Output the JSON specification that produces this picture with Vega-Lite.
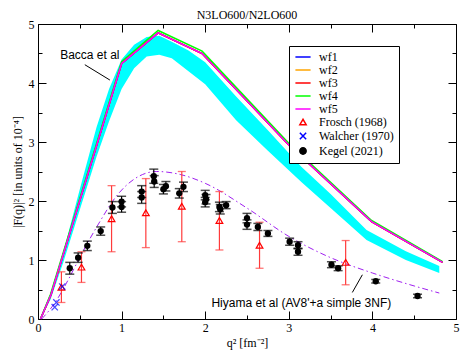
{
  "$schema": "https://vega.github.io/schema/vega-lite/v6.json",
  "width": 418,
  "height": 295,
  "autosize": "none",
  "padding": {"left": 38, "top": 24, "right": 5, "bottom": 34},
  "background": "white",
  "title": {"text": "N3LO600/N2LO600", "font": "Liberation Serif", "fontSize": 12, "fontWeight": "normal", "color": "black", "offset": 4, "dy": 8},
  "config": {
    "view": {"stroke": "black", "strokeWidth": 1},
    "axis": {"domain": false, "grid": false, "tickColor": "black", "tickWidth": 1, "labelColor": "black", "labelFont": "Liberation Serif", "labelFontSize": 12, "titleFont": "Liberation Serif", "titleFontSize": 12, "titleFontWeight": "normal", "titleColor": "black", "labelFlush": false, "labelOverlap": false, "labelBound": false},
    "legend": {"orient": "none", "legendX": 251, "legendY": 22, "title": null, "labelFont": "Liberation Serif", "labelFontSize": 12, "labelColor": "black", "strokeColor": "black", "fillColor": "white", "padding": 5, "rowPadding": 1, "symbolOffset": 3, "labelOffset": 10, "symbolSize": 40, "symbolStrokeWidth": 1.5},
    "tick": {"thickness": 1.3}
  },
  "datasets": {
    "band": [
      {"q": 0.03, "lo": 0, "hi": 0},
      {"q": 0.15, "lo": 0.33, "hi": 0.40},
      {"q": 0.3, "lo": 0.95, "hi": 1.12},
      {"q": 0.5, "lo": 1.85, "hi": 2.2},
      {"q": 0.7, "lo": 2.75, "hi": 3.25},
      {"q": 0.85, "lo": 3.35, "hi": 3.9},
      {"q": 1.0, "lo": 3.9, "hi": 4.4},
      {"q": 1.15, "lo": 4.25, "hi": 4.65},
      {"q": 1.3, "lo": 4.45, "hi": 4.78},
      {"q": 1.45, "lo": 4.48, "hi": 4.8},
      {"q": 1.6, "lo": 4.42, "hi": 4.7},
      {"q": 1.8, "lo": 4.2, "hi": 4.55},
      {"q": 2.0, "lo": 3.98, "hi": 4.35},
      {"q": 2.37, "lo": 3.37, "hi": 3.77},
      {"q": 2.75, "lo": 2.85, "hi": 3.2},
      {"q": 3.15, "lo": 2.32, "hi": 2.58},
      {"q": 3.5, "lo": 1.88, "hi": 2.12},
      {"q": 3.93, "lo": 1.34, "hi": 1.51},
      {"q": 4.4, "lo": 1.0, "hi": 1.15},
      {"q": 4.8, "lo": 0.78, "hi": 0.9}
    ],
    "wf": [
      {"series": "wf1", "q": 0.03, "v": 0}, {"series": "wf1", "q": 0.155, "v": 0.41}, {"series": "wf1", "q": 1.0, "v": 4.33}, {"series": "wf1", "q": 1.437, "v": 4.85}, {"series": "wf1", "q": 1.963, "v": 4.5}, {"series": "wf1", "q": 3.0, "v": 2.95}, {"series": "wf1", "q": 3.99, "v": 1.65}, {"series": "wf1", "q": 4.84, "v": 0.96},
      {"series": "wf2", "q": 0.03, "v": 0}, {"series": "wf2", "q": 0.155, "v": 0.41}, {"series": "wf2", "q": 1.0, "v": 4.33}, {"series": "wf2", "q": 1.437, "v": 4.85}, {"series": "wf2", "q": 1.963, "v": 4.5}, {"series": "wf2", "q": 3.0, "v": 2.95}, {"series": "wf2", "q": 3.99, "v": 1.65}, {"series": "wf2", "q": 4.84, "v": 0.96},
      {"series": "wf3", "q": 0.03, "v": 0}, {"series": "wf3", "q": 0.155, "v": 0.41}, {"series": "wf3", "q": 1.0, "v": 4.33}, {"series": "wf3", "q": 1.437, "v": 4.85}, {"series": "wf3", "q": 1.963, "v": 4.5}, {"series": "wf3", "q": 3.0, "v": 2.95}, {"series": "wf3", "q": 3.99, "v": 1.65}, {"series": "wf3", "q": 4.84, "v": 0.96},
      {"series": "wf4", "q": 0.03, "v": 0}, {"series": "wf4", "q": 0.15, "v": 0.42}, {"series": "wf4", "q": 1.0, "v": 4.36}, {"series": "wf4", "q": 1.437, "v": 4.89}, {"series": "wf4", "q": 1.963, "v": 4.54}, {"series": "wf4", "q": 3.0, "v": 2.98}, {"series": "wf4", "q": 3.99, "v": 1.67}, {"series": "wf4", "q": 4.84, "v": 0.97},
      {"series": "wf5", "q": 0.03, "v": 0}, {"series": "wf5", "q": 0.155, "v": 0.41}, {"series": "wf5", "q": 1.0, "v": 4.33}, {"series": "wf5", "q": 1.437, "v": 4.85}, {"series": "wf5", "q": 1.963, "v": 4.5}, {"series": "wf5", "q": 3.0, "v": 2.95}, {"series": "wf5", "q": 3.99, "v": 1.65}, {"series": "wf5", "q": 4.84, "v": 0.96}
    ],
    "hiyama": [
      {"q": 0.044, "v": 0.0}, {"q": 0.2, "v": 0.27}, {"q": 0.36, "v": 0.66}, {"q": 0.52, "v": 1.1}, {"q": 0.74, "v": 1.65}, {"q": 0.92, "v": 2.05}, {"q": 1.16, "v": 2.38}, {"q": 1.42, "v": 2.5}, {"q": 1.7, "v": 2.45}, {"q": 2.0, "v": 2.3}, {"q": 2.5, "v": 1.88}, {"q": 3.0, "v": 1.4}, {"q": 3.5, "v": 1.04}, {"q": 4.0, "v": 0.78}, {"q": 4.5, "v": 0.56}, {"q": 4.8, "v": 0.44}
    ],
    "frosch": [
      {"q": 0.28, "v": 0.54, "lo": 0.28, "hi": 0.8},
      {"q": 0.52, "v": 0.88, "lo": 0.62, "hi": 1.14},
      {"q": 0.88, "v": 1.7, "lo": 1.14, "hi": 2.26},
      {"q": 1.29, "v": 1.8, "lo": 1.21, "hi": 2.38},
      {"q": 1.72, "v": 1.91, "lo": 1.31, "hi": 2.5},
      {"q": 2.17, "v": 1.67, "lo": 1.17, "hi": 2.16},
      {"q": 2.65, "v": 1.25, "lo": 0.86, "hi": 1.64},
      {"q": 3.68, "v": 0.96, "lo": 0.58, "hi": 1.33}
    ],
    "walcher": [
      {"q": 0.29, "v": 0.55}, {"q": 0.22, "v": 0.28}, {"q": 0.2, "v": 0.2}
    ],
    "kegel": [
      {"series": "Kegel (2021)", "q": 0.38, "v": 0.86, "lo": 0.76, "hi": 0.96},
      {"series": "Kegel (2021)", "q": 0.48, "v": 1.04, "lo": 0.96, "hi": 1.12},
      {"series": "Kegel (2021)", "q": 0.59, "v": 1.24, "lo": 1.16, "hi": 1.32},
      {"series": "Kegel (2021)", "q": 0.75, "v": 1.49, "lo": 1.42, "hi": 1.56},
      {"series": "Kegel (2021)", "q": 0.89, "v": 1.89, "lo": 1.79, "hi": 1.99},
      {"series": "Kegel (2021)", "q": 1.0, "v": 1.99, "lo": 1.9, "hi": 2.08},
      {"series": "Kegel (2021)", "q": 1.0, "v": 1.9, "lo": 1.81, "hi": 1.99},
      {"series": "Kegel (2021)", "q": 1.24, "v": 2.16, "lo": 2.06, "hi": 2.26},
      {"series": "Kegel (2021)", "q": 1.24, "v": 2.06, "lo": 1.96, "hi": 2.16},
      {"series": "Kegel (2021)", "q": 1.385, "v": 2.42, "lo": 2.3, "hi": 2.54},
      {"series": "Kegel (2021)", "q": 1.39, "v": 2.33, "lo": 2.23, "hi": 2.43},
      {"series": "Kegel (2021)", "q": 1.5, "v": 2.2, "lo": 2.12, "hi": 2.28},
      {"series": "Kegel (2021)", "q": 1.53, "v": 2.25, "lo": 2.17, "hi": 2.33},
      {"series": "Kegel (2021)", "q": 1.69, "v": 2.13, "lo": 2.05, "hi": 2.21},
      {"series": "Kegel (2021)", "q": 1.74, "v": 2.24, "lo": 2.16, "hi": 2.32},
      {"series": "Kegel (2021)", "q": 2.0, "v": 2.1, "lo": 2.02, "hi": 2.18},
      {"series": "Kegel (2021)", "q": 2.01, "v": 2.03, "lo": 1.95, "hi": 2.11},
      {"series": "Kegel (2021)", "q": 2.0, "v": 1.98, "lo": 1.9, "hi": 2.06},
      {"series": "Kegel (2021)", "q": 2.17, "v": 1.9, "lo": 1.82, "hi": 1.98},
      {"series": "Kegel (2021)", "q": 2.18, "v": 1.86, "lo": 1.78, "hi": 1.94},
      {"series": "Kegel (2021)", "q": 2.25, "v": 1.93, "lo": 1.87, "hi": 1.99},
      {"series": "Kegel (2021)", "q": 2.5, "v": 1.71, "lo": 1.63, "hi": 1.79},
      {"series": "Kegel (2021)", "q": 2.5, "v": 1.6, "lo": 1.52, "hi": 1.68},
      {"series": "Kegel (2021)", "q": 2.63, "v": 1.56, "lo": 1.5, "hi": 1.62},
      {"series": "Kegel (2021)", "q": 2.75, "v": 1.45, "lo": 1.4, "hi": 1.5},
      {"series": "Kegel (2021)", "q": 3.01, "v": 1.31, "lo": 1.25, "hi": 1.37},
      {"series": "Kegel (2021)", "q": 3.11, "v": 1.25, "lo": 1.19, "hi": 1.31},
      {"series": "Kegel (2021)", "q": 3.11, "v": 1.14, "lo": 1.08, "hi": 1.2},
      {"series": "Kegel (2021)", "q": 3.51, "v": 0.92, "lo": 0.87, "hi": 0.97},
      {"series": "Kegel (2021)", "q": 3.59, "v": 0.86, "lo": 0.82, "hi": 0.9},
      {"series": "Kegel (2021)", "q": 4.04, "v": 0.64, "lo": 0.61, "hi": 0.67},
      {"series": "Kegel (2021)", "q": 4.54, "v": 0.39, "lo": 0.36, "hi": 0.42}
    ],
    "notes": [
      {"q": 0.62, "v": 4.47, "label": "Bacca et al"},
      {"q": 3.15, "v": 0.27, "label": "Hiyama et al (AV8'+a simple 3NF)"}
    ],
    "leaders": [
      {"q": 0.56, "v": 4.31, "q2": 0.86, "v2": 4.05},
      {"q": 3.76, "v": 0.45, "q2": 3.88, "v2": 0.75}
    ]
  },
  "resolve": {"axis": {"x": "independent", "y": "independent"}},
  "layer": [
    {
      "data": {"name": "band"},
      "mark": {"type": "area", "color": "#00ffff", "opacity": 1},
      "encoding": {
        "x": {"field": "q", "type": "quantitative", "scale": {"domain": [0, 5], "nice": false, "zero": false}, "axis": {"orient": "bottom", "values": [0, 1, 2, 3, 4, 5], "tickSize": -8, "labelPadding": 11, "title": "q² [fm⁻²]", "titlePadding": 4}},
        "y": {"field": "hi", "type": "quantitative", "scale": {"domain": [0, 5], "nice": false, "zero": false}, "axis": {"orient": "left", "values": [0, 1, 2, 3, 4, 5], "tickSize": -8, "labelPadding": 12, "title": "|F(q)|² [in units of 10⁻⁴]", "titlePadding": 4}},
        "y2": {"field": "lo"}
      }
    },
    {
      "data": {"name": "wf"},
      "mark": {"type": "line", "strokeWidth": 1.5},
      "encoding": {
        "x": {"field": "q", "type": "quantitative", "scale": {"domain": [0, 5], "nice": false, "zero": false}, "axis": {"orient": "bottom", "values": [0.5, 1.5, 2.5, 3.5, 4.5], "tickSize": -4, "labels": false, "title": null}},
        "y": {"field": "v", "type": "quantitative", "scale": {"domain": [0, 5], "nice": false, "zero": false}, "axis": {"orient": "left", "values": [0.5, 1.5, 2.5, 3.5, 4.5], "tickSize": -4, "labels": false, "title": null}},
        "color": {"field": "series", "type": "nominal",
          "scale": {"domain": ["wf1", "wf2", "wf3", "wf4", "wf5", "Frosch (1968)", "Walcher (1970)", "Kegel (2021)"], "range": ["#0000ff", "#ffa500", "#ff0000", "#00ff00", "#ff00ff", "#ff0000", "#0000ff", "#000000"]},
          "legend": {"strokeColor": "black", "fillColor": "white", "encode": {"legend": {"update": {"stroke": {"value": "black"}, "strokeWidth": {"value": 1}, "fill": {"value": "white"}}}, "symbols": {"update": {"fill": {"value": "black"}, "fillOpacity": {"signal": "datum.value === 'Kegel (2021)' ? 1 : 0"}, "stroke": {"scale": "color", "field": "value"}, "strokeWidth": {"value": 1.5}, "opacity": {"value": 1}}}}}},
        "order": {"field": "q", "type": "quantitative"}
      }
    },
    {
      "data": {"name": "hiyama"},
      "mark": {"type": "line", "color": "#a020f0", "strokeWidth": 1, "strokeDash": [6, 3, 1.5, 3], "interpolate": "monotone"},
      "encoding": {
        "x": {"field": "q", "type": "quantitative", "scale": {"domain": [0, 5], "nice": false, "zero": false}, "axis": {"orient": "top", "values": [0, 1, 2, 3, 4, 5], "tickSize": -8, "labels": false, "title": null}},
        "y": {"field": "v", "type": "quantitative", "scale": {"domain": [0, 5], "nice": false, "zero": false}, "axis": {"orient": "right", "values": [0, 1, 2, 3, 4, 5], "tickSize": -8, "labels": false, "title": null}}
      }
    },
    {
      "data": {"name": "frosch"},
      "mark": {"type": "rule", "color": "#ff3b3b", "strokeWidth": 1.2},
      "encoding": {
        "x": {"field": "q", "type": "quantitative", "scale": {"domain": [0, 5], "nice": false, "zero": false}, "axis": {"orient": "top", "values": [0.5, 1.5, 2.5, 3.5, 4.5], "tickSize": -4, "labels": false, "title": null}},
        "y": {"field": "lo", "type": "quantitative", "scale": {"domain": [0, 5], "nice": false, "zero": false}, "axis": {"orient": "right", "values": [0.5, 1.5, 2.5, 3.5, 4.5], "tickSize": -4, "labels": false, "title": null}},
        "y2": {"field": "hi"}
      }
    },
    {
      "data": {"name": "frosch"},
      "mark": {"type": "tick", "orient": "horizontal", "color": "#ff3b3b", "size": 8, "thickness": 1.3},
      "encoding": {
        "x": {"field": "q", "type": "quantitative", "axis": null},
        "y": {"field": "lo", "type": "quantitative", "axis": null}
      }
    },
    {
      "data": {"name": "frosch"},
      "mark": {"type": "tick", "orient": "horizontal", "color": "#ff3b3b", "size": 8, "thickness": 1.3},
      "encoding": {
        "x": {"field": "q", "type": "quantitative", "axis": null},
        "y": {"field": "hi", "type": "quantitative", "axis": null}
      }
    },
    {
      "data": {"name": "frosch"},
      "mark": {"type": "point", "shape": "triangle-up", "filled": false, "color": "#ff0000", "strokeWidth": 1.2, "size": 45, "fill": "white", "fillOpacity": 0},
      "encoding": {
        "x": {"field": "q", "type": "quantitative", "axis": null},
        "y": {"field": "v", "type": "quantitative", "axis": null}
      }
    },
    {
      "data": {"name": "walcher"},
      "mark": {"type": "point", "shape": "M-1,-1L1,1M1,-1L-1,1", "filled": false, "color": "#0000ff", "strokeWidth": 1.3, "size": 40},
      "encoding": {
        "x": {"field": "q", "type": "quantitative", "axis": null},
        "y": {"field": "v", "type": "quantitative", "axis": null}
      }
    },
    {
      "data": {"name": "kegel"},
      "mark": {"type": "rule", "color": "black", "strokeWidth": 1.2},
      "encoding": {
        "x": {"field": "q", "type": "quantitative", "axis": null},
        "y": {"field": "lo", "type": "quantitative", "axis": null},
        "y2": {"field": "hi"}
      }
    },
    {
      "data": {"name": "kegel"},
      "mark": {"type": "tick", "orient": "horizontal", "color": "black", "size": 9, "thickness": 1.5},
      "encoding": {
        "x": {"field": "q", "type": "quantitative", "axis": null},
        "y": {"field": "lo", "type": "quantitative", "axis": null}
      }
    },
    {
      "data": {"name": "kegel"},
      "mark": {"type": "tick", "orient": "horizontal", "color": "black", "size": 9, "thickness": 1.5},
      "encoding": {
        "x": {"field": "q", "type": "quantitative", "axis": null},
        "y": {"field": "hi", "type": "quantitative", "axis": null}
      }
    },
    {
      "data": {"name": "kegel"},
      "mark": {"type": "point", "filled": true, "size": 40, "opacity": 1},
      "encoding": {
        "x": {"field": "q", "type": "quantitative", "axis": null},
        "y": {"field": "v", "type": "quantitative", "axis": null},
        "color": {"field": "series", "type": "nominal",
          "legend": {"strokeColor": "black", "fillColor": "white", "encode": {"legend": {"update": {"stroke": {"value": "black"}, "strokeWidth": {"value": 1}, "fill": {"value": "white"}}}, "symbols": {"update": {"fill": {"value": "black"}, "fillOpacity": {"signal": "datum.value === 'Kegel (2021)' ? 1 : 0"}, "stroke": {"scale": "color", "field": "value"}, "strokeWidth": {"value": 1.5}, "opacity": {"value": 1}}}}}},
        "shape": {"field": "series", "type": "nominal",
          "scale": {"domain": ["wf1", "wf2", "wf3", "wf4", "wf5", "Frosch (1968)", "Walcher (1970)", "Kegel (2021)"], "range": ["M-2.4,0L2.4,0", "M-2.4,0L2.4,0", "M-2.4,0L2.4,0", "M-2.4,0L2.4,0", "M-2.4,0L2.4,0", "triangle-up", "M-1,-1L1,1M1,-1L-1,1", "circle"]},
          "legend": {"strokeColor": "black", "fillColor": "white", "encode": {"legend": {"update": {"stroke": {"value": "black"}, "strokeWidth": {"value": 1}, "fill": {"value": "white"}}}}}}
      }
    },
    {
      "data": {"name": "notes"},
      "mark": {"type": "text", "font": "Liberation Sans", "fontSize": 12, "color": "black", "align": "center", "baseline": "middle"},
      "encoding": {
        "x": {"field": "q", "type": "quantitative", "axis": null},
        "y": {"field": "v", "type": "quantitative", "axis": null},
        "text": {"field": "label"}
      }
    },
    {
      "data": {"name": "leaders"},
      "mark": {"type": "rule", "color": "black", "strokeWidth": 1},
      "encoding": {
        "x": {"field": "q", "type": "quantitative", "axis": null},
        "y": {"field": "v", "type": "quantitative", "axis": null},
        "x2": {"field": "q2"},
        "y2": {"field": "v2"}
      }
    }
  ]
}
